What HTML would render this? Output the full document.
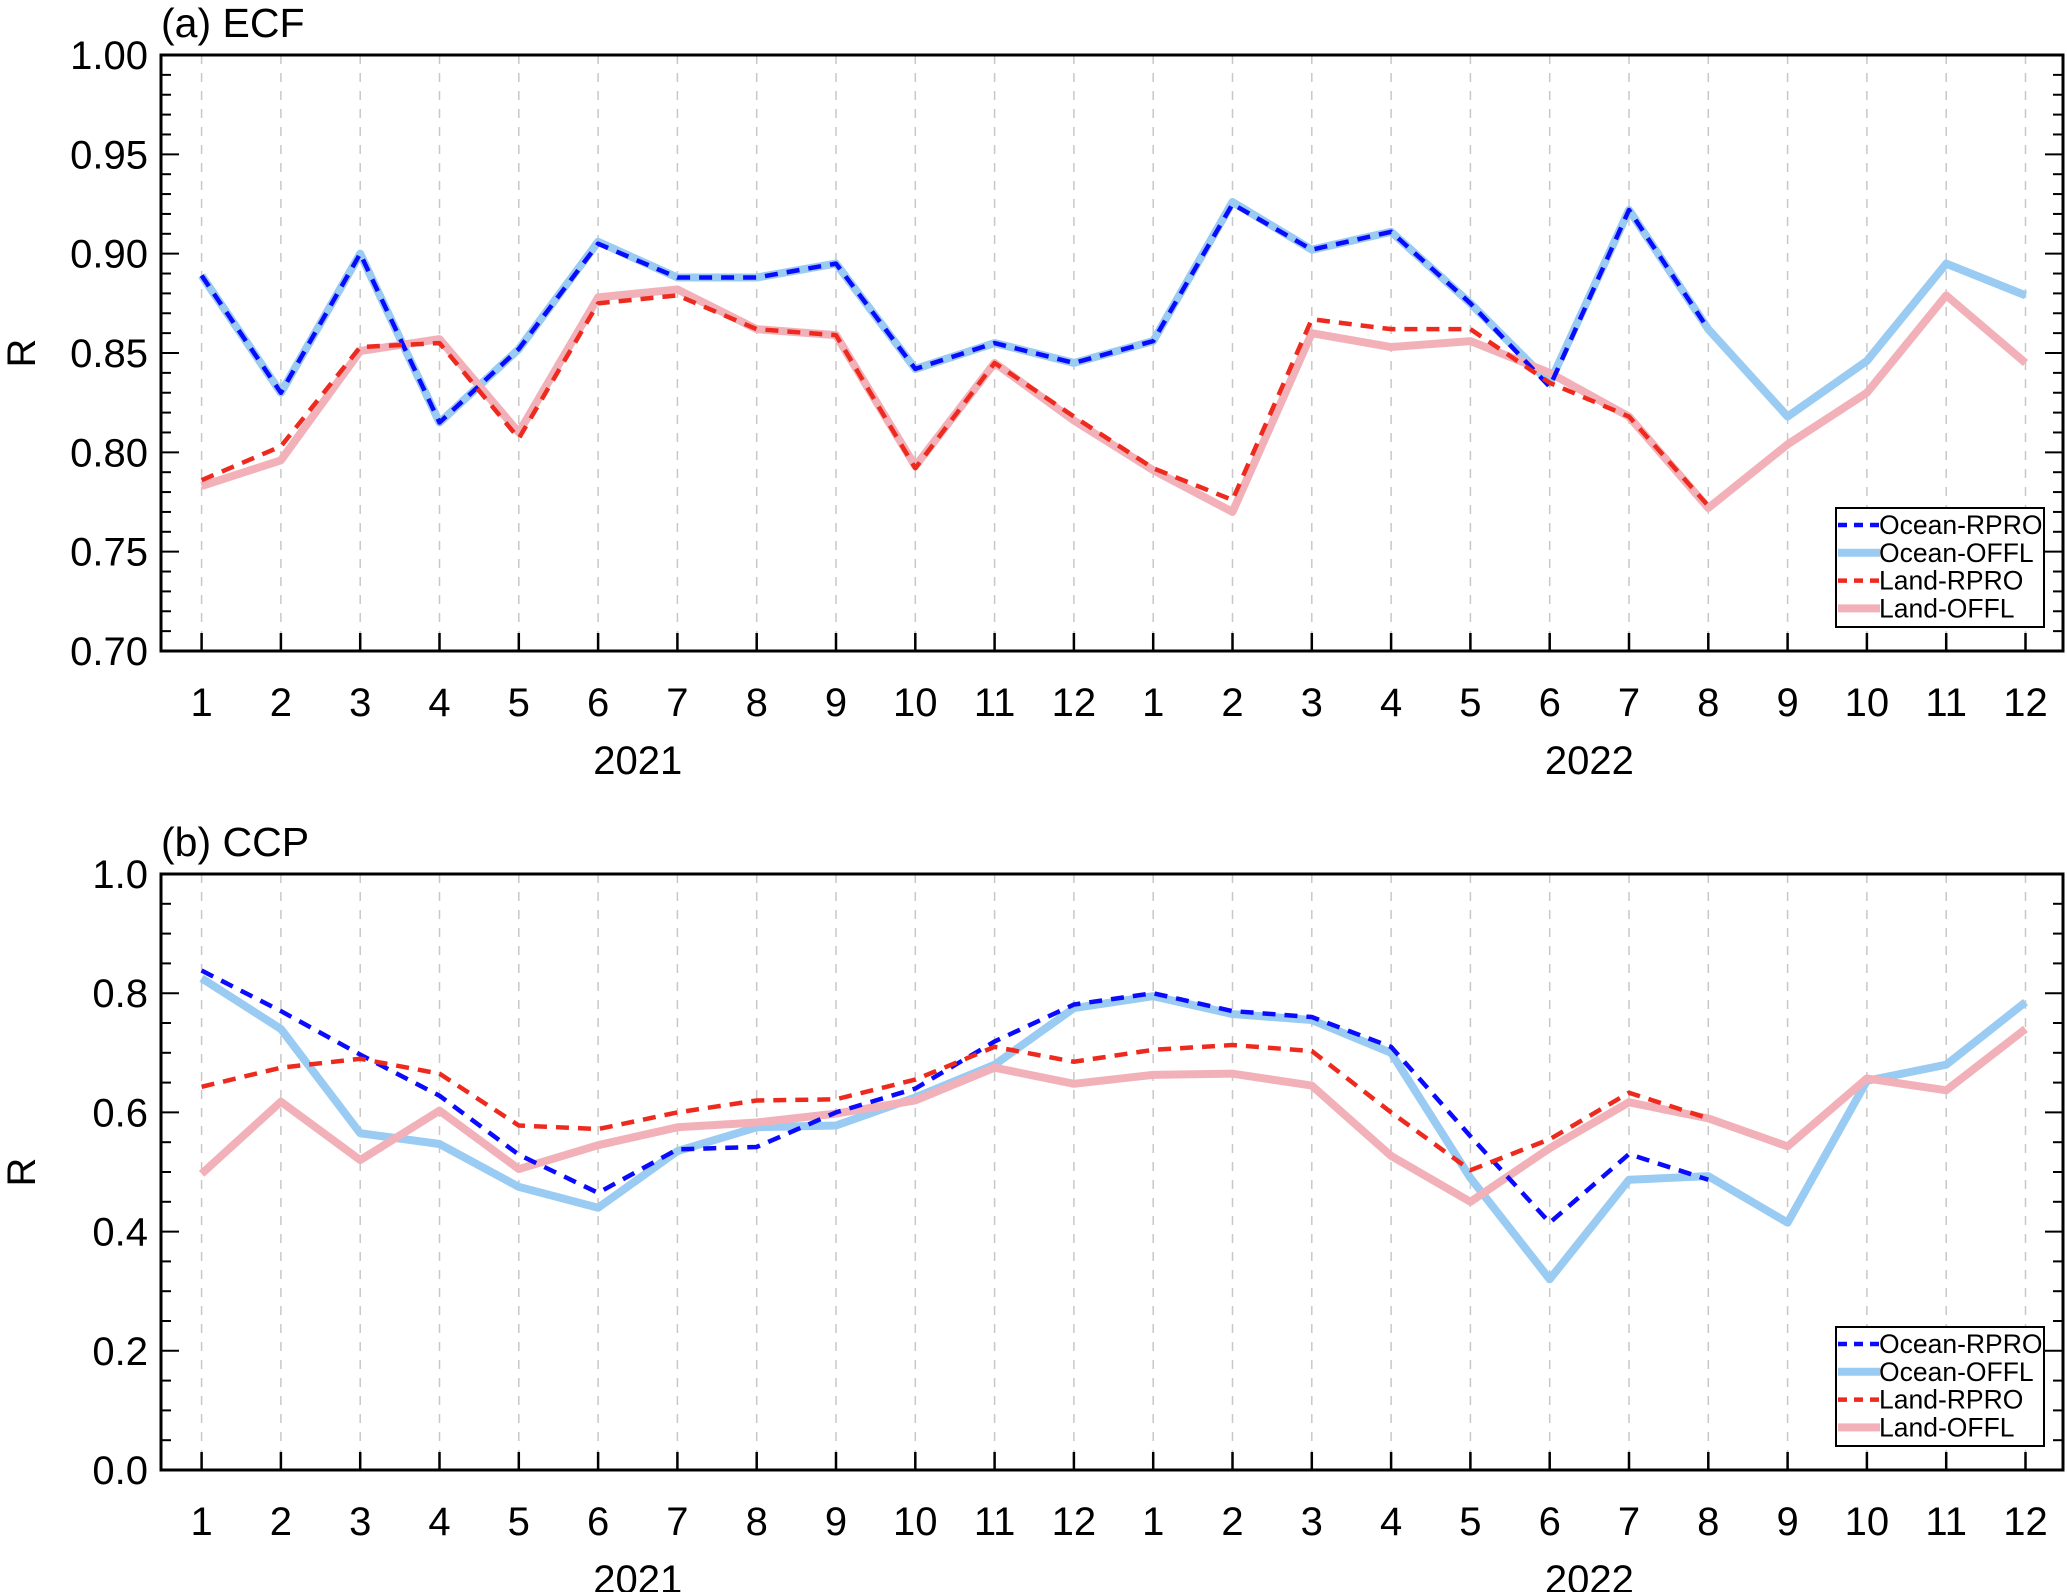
<!DOCTYPE html>
<html><head><meta charset="utf-8"><style>
body{margin:0;background:#fff}
svg{display:block;font-family:"Liberation Sans",Arial,sans-serif}
</style></head><body>
<svg id="chart" width="2067" height="1592" viewBox="0 0 2067 1592" xmlns="http://www.w3.org/2000/svg"></svg>
<script>
const months = [1,2,3,4,5,6,7,8,9,10,11,12,1,2,3,4,5,6,7,8,9,10,11,12];
const years = ["2021","2022"];
const ecfOceanRPRO = [0.889,0.830,0.900,0.815,0.852,0.905,0.888,0.888,0.895,0.842,0.855,0.845,0.856,0.925,0.902,0.911,0.875,0.833,0.922,0.862];
const ecfOceanOFFL = [0.889,0.830,0.900,0.815,0.852,0.906,0.888,0.888,0.895,0.842,0.855,0.845,0.856,0.926,0.902,0.911,0.875,0.835,0.922,0.862,0.818,0.846,0.895,0.879];
const ecfLandRPRO = [0.786,0.803,0.853,0.855,0.807,0.875,0.879,0.862,0.859,0.792,0.845,0.818,0.792,0.776,0.867,0.862,0.862,0.835,0.818,0.773];
const ecfLandOFFL = [0.783,0.796,0.851,0.857,0.810,0.878,0.882,0.862,0.859,0.793,0.845,0.816,0.791,0.770,0.860,0.853,0.856,0.840,0.818,0.772,0.804,0.830,0.879,0.845];
const ccpOceanRPRO = [0.838,0.770,0.697,0.628,0.529,0.465,0.538,0.542,0.600,0.640,0.719,0.781,0.800,0.770,0.760,0.710,0.560,0.415,0.530,0.487];
const ccpOceanOFFL = [0.825,0.740,0.565,0.547,0.475,0.440,0.535,0.575,0.578,0.625,0.680,0.775,0.795,0.765,0.755,0.700,0.490,0.320,0.487,0.493,0.415,0.653,0.680,0.785];
const ccpLandRPRO = [0.643,0.675,0.690,0.665,0.578,0.572,0.600,0.620,0.622,0.655,0.710,0.685,0.705,0.713,0.703,0.600,0.503,0.555,0.633,0.590];
const ccpLandOFFL = [0.497,0.618,0.520,0.603,0.505,0.545,0.575,0.583,0.598,0.620,0.675,0.648,0.663,0.665,0.645,0.527,0.450,0.540,0.617,0.590,0.543,0.657,0.637,0.740];
const ecfTicks = ["0.70","0.75","0.80","0.85","0.90","0.95","1.00"];
const ccpTicks = ["0.0","0.2","0.4","0.6","0.8","1.0"];
const legendLabels = ["Ocean-RPRO","Ocean-OFFL","Land-RPRO","Land-OFFL"];

const NS="http://www.w3.org/2000/svg";
const svg=document.getElementById('chart');
function mk(tag,attrs,parent){const e=document.createElementNS(NS,tag);for(const k in attrs)e.setAttribute(k,attrs[k]);(parent||svg).appendChild(e);return e;}
const L=161,R=2063,X0=201.6,DX=79.3;
function xs(i){return X0+DX*i;}
const styles=[
 {color:"#0a0aff",w:4.5,dash:"13 9"},
 {color:"#99cbf3",w:8,dash:null},
 {color:"#ee2a1e",w:4.5,dash:"13 9"},
 {color:"#f2b1b8",w:8,dash:null}];

function panel(name,top,bottom,ymin,ymax,ticks,minorStep,series,title,legTop){
  const g=mk('g',{},svg);
  
  
  const ys=v=>bottom-(v-ymin)/(ymax-ymin)*(bottom-top);
  months.forEach((m,i)=>{const l=mk('line',{x1:xs(i),x2:xs(i),y1:top,y2:bottom,stroke:"#c8c8c8","stroke-width":1.5,"stroke-dasharray":"9 9"},g);
    });
  [1,3,0,2].forEach(k=>{const vals=series[k];const st=styles[k];
    const p=mk('polyline',{points:vals.map((v,i)=>xs(i)+","+ys(v)).join(" "),fill:"none",stroke:st.color,"stroke-width":st.w,"stroke-linejoin":"round"},g);
    if(st.dash)p.setAttribute('stroke-dasharray',st.dash);
    
    });
  const fr=mk('rect',{x:L,y:top,width:R-L,height:bottom-top,fill:"none",stroke:"#000","stroke-width":3},g);
  
  const nMinor=Math.round((ymax-ymin)/minorStep);
  const majStep=(ymax-ymin)/(ticks.length-1);
  for(let j=0;j<=nMinor;j++){const v=ymin+j*minorStep;const y=ys(v);
    const r=(v-ymin)/majStep;const major=Math.abs(r-Math.round(r))<1e-6;
    const len=major?18:10;
    mk('line',{x1:L,x2:L+len,y1:y,y2:y,stroke:"#000","stroke-width":2},g);
    mk('line',{x1:R,x2:R-len,y1:y,y2:y,stroke:"#000","stroke-width":2},g);}
  ticks.forEach((t,j)=>{const v=ymin+j*majStep;
    const tx=mk('text',{x:L-13,y:ys(v)+14,"font-size":40,"text-anchor":"end"},g);tx.textContent=t;
    });
  months.forEach((m,i)=>{mk('line',{x1:xs(i),x2:xs(i),y1:bottom,y2:bottom-18,stroke:"#000","stroke-width":2.5},g);
    const tx=mk('text',{x:xs(i),y:bottom+65,"font-size":40,"text-anchor":"middle"},g);tx.textContent=m;
    });
  years.forEach((yr,k)=>{const tx=mk('text',{x:(xs(k*12)+xs(k*12+11))/2,y:bottom+123,"font-size":40,"text-anchor":"middle"},g);tx.textContent=yr;
    });
  const yl=mk('text',{x:0,y:0,"font-size":40,"text-anchor":"middle",transform:`translate(35,${(top+bottom)/2}) rotate(-90)`},g);yl.textContent="R";
  
  const tt=mk('text',{x:L,y:top-18,"font-size":41},g);tt.textContent=title;
  
  const lg=mk('g',{},g);
  mk('rect',{x:1836,y:legTop,width:208,height:119,fill:"#fff",stroke:"#000","stroke-width":2},lg);
  legendLabels.forEach((lab,k)=>{const y=legTop+17+k*27.8;const st=styles[k];
    const ln=mk('line',{x1:1838,x2:1880,y1:y,y2:y,stroke:st.color,"stroke-width":st.w},lg);
    if(st.dash)ln.setAttribute('stroke-dasharray',"9 7");
    const tx=mk('text',{x:1879,y:y+9,"font-size":26.5},lg);tx.textContent=lab;
    });
}
panel('ecf',55,651,0.70,1.00,ecfTicks,0.01,[ecfOceanRPRO,ecfOceanOFFL,ecfLandRPRO,ecfLandOFFL],"(a) ECF",508);
panel('ccp',874,1470,0.0,1.0,ccpTicks,0.05,[ccpOceanRPRO,ccpOceanOFFL,ccpLandRPRO,ccpLandOFFL],"(b) CCP",1327);
</script>
</body></html>
